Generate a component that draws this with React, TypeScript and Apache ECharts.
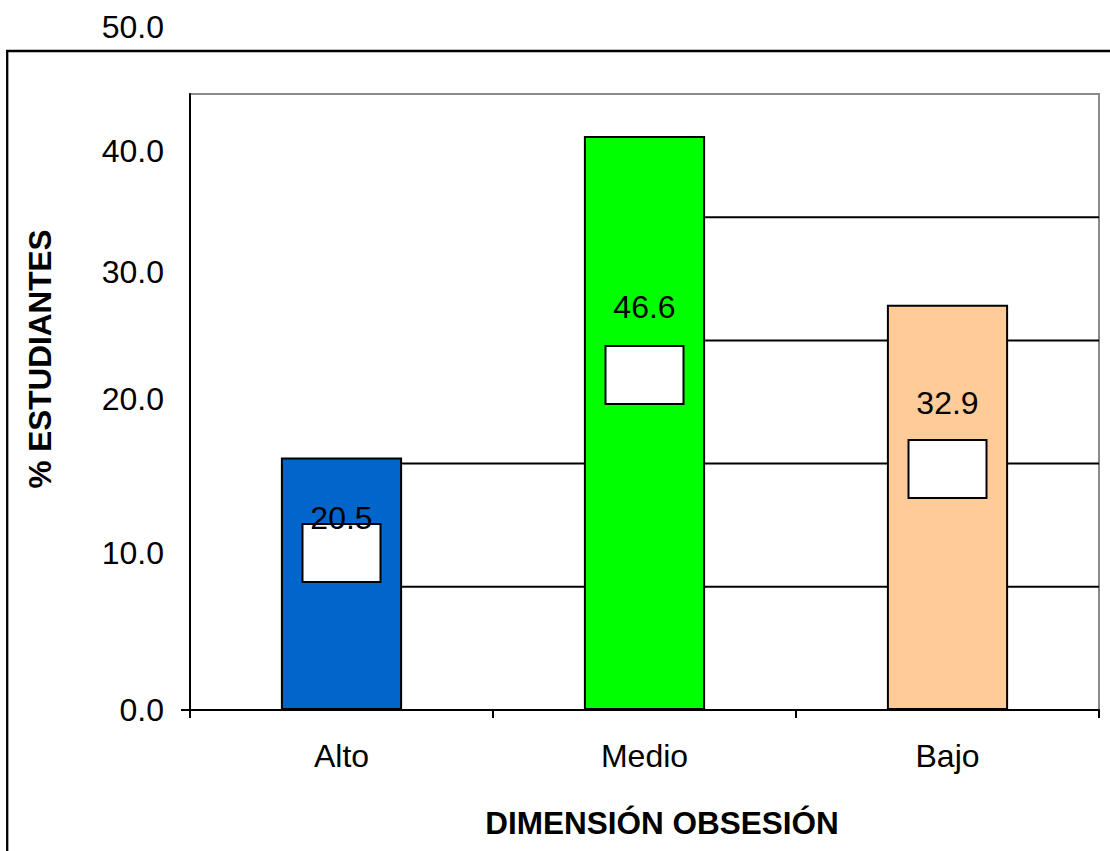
import React, { useEffect, useRef } from "react";
import * as echarts from "echarts";

const categories = ["Alto", "Medio", "Bajo"];
const values = [20.5, 46.6, 32.9];
const yTickLabels = ["0.0", "10.0", "20.0", "30.0", "40.0", "50.0"];
const gridLevels = [10, 20, 30, 40];

// styles
const barColors = ["#0066CC", "#00FF00", "#FFCC99"];
const yLabelLift = [0, 34, 65, 68, 66, 67];
const boxOffsetY = [95.6, 239, 164.3];
const textOffsetY = [60.6, 171, 98.3];
const FONT = "'Liberation Sans', Arial, sans-serif";
const BAR_RATIO = 0.4;
const FS = 32;

export default function App() {
  const ref = useRef<HTMLDivElement>(null);
  useEffect(() => {
    if (!ref.current) return;
    const chart = echarts.init(ref.current, null, { renderer: "svg" });
    const rich: Record<string, any> = {};
    yTickLabels.forEach((_, i) => {
      rich["l" + i] = {
        fontSize: FS,
        fontFamily: FONT,
        color: "#000",
        padding: [0, 0, yLabelLift[i] * 2, 0],
      };
    });
    const option: any = {
      animation: false,
      backgroundColor: "#fff",
      textStyle: { fontFamily: FONT },
      graphic: [
        {
          type: "rect",
          shape: { x: 7.2, y: 51, width: 1300, height: 1000 },
          style: { fill: "none", stroke: "#000", lineWidth: 2.3 },
          z: 0,
          silent: true,
        },
      ],
      grid: {
        left: 190,
        top: 94,
        width: 909,
        height: 616,
        show: true,
        backgroundColor: "#fff",
        borderColor: "#8a8a8a",
        borderWidth: 2,
      },
      xAxis: {
        type: "category",
        data: categories,
        axisLine: { lineStyle: { color: "#000", width: 2 } },
        axisTick: { show: true, length: 8, lineStyle: { color: "#000", width: 2 } },
        axisLabel: { fontSize: FS, color: "#000", margin: 30, fontFamily: FONT },
        splitLine: { show: false },
        name: "DIMENSIÓN OBSESIÓN",
        nameLocation: "middle",
        nameGap: 97,
        nameTextStyle: {
          fontSize: 31.5,
          fontWeight: "bold",
          color: "#000",
          fontFamily: FONT,
          padding: [0, 0, 0, 35],
        },
      },
      yAxis: {
        type: "value",
        min: 0,
        max: 50,
        interval: 10,
        axisLine: { show: true, lineStyle: { color: "#000", width: 2 } },
        axisTick: {
          show: true,
          customValues: [0],
          length: 9,
          lineStyle: { color: "#000", width: 2 },
        },
        splitLine: { show: false },
        axisLabel: {
          margin: 26,
          showMaxLabel: true,
          formatter: (v: number) => {
            const i = Math.round(v / 10);
            return `{l${i}|${yTickLabels[i]}}`;
          },
          rich,
        },
        name: "% ESTUDIANTES",
        nameLocation: "middle",
        nameGap: 134,
        nameRotate: 90,
        nameTextStyle: {
          fontSize: 31.5,
          fontWeight: "bold",
          color: "#000",
          fontFamily: FONT,
          padding: [0, 0, 0, 86],
        },
      },
      series: [
        {
          type: "custom",
          z: 1,
          silent: true,
          data: gridLevels.map((l) => [0, l]),
          encode: { x: 0, y: 1 },
          renderItem: (params: any, api: any) => {
            const level = api.value(1);
            const idx = values.findIndex((v) => v >= level);
            const band = api.size([1, 0])[0];
            const cs = params.coordSys;
            const y = api.coord([0, level])[1];
            let x0 = cs.x;
            if (idx >= 0) x0 = api.coord([idx, level])[0] + (band * BAR_RATIO) / 2;
            return {
              type: "line",
              shape: { x1: x0, y1: y, x2: cs.x + cs.width, y2: y },
              style: { stroke: "#000", lineWidth: 2 },
            };
          },
        },
        {
          type: "bar",
          z: 2,
          barWidth: BAR_RATIO * 100 + "%",
          barGap: "-100%",
          itemStyle: { borderColor: "#000", borderWidth: 2 },
          label: {
            show: true,
            formatter: "{b| }",
            align: "center",
            verticalAlign: "middle",
            rich: {
              b: {
                width: 76,
                height: 56,
                backgroundColor: "#fff",
                borderColor: "#000",
                borderWidth: 2,
                fontSize: 10,
              },
            },
          },
          data: values.map((v, i) => ({
            value: v,
            itemStyle: { color: barColors[i] },
            label: { position: ["50%", boxOffsetY[i]] },
          })),
        },
        {
          type: "bar",
          z: 3,
          silent: true,
          barWidth: BAR_RATIO * 100 + "%",
          barGap: "-100%",
          itemStyle: { color: "rgba(0,0,0,0)" },
          label: {
            show: true,
            fontSize: FS,
            color: "#000",
            fontFamily: FONT,
            align: "center",
            verticalAlign: "middle",
            formatter: (p: any) => Number(p.value).toFixed(1),
          },
          data: values.map((v, i) => ({
            value: v,
            label: { position: ["50%", textOffsetY[i]] },
          })),
        },
      ],
    };
    chart.setOption(option);
    return () => chart.dispose();
  }, []);
  return (
    <div
      ref={ref}
      style={{ position: "absolute", left: 0, top: 0, width: 1110, height: 851 }}
    />
  );
}
